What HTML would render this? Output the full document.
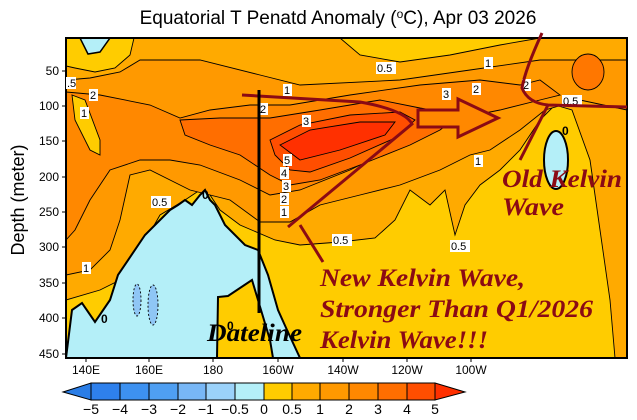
<!DOCTYPE html>
<html><head><meta charset="utf-8"><style>
body{margin:0;background:#fff}
svg{display:block}
.lb rect{fill:#fff}
.lb text{font:11px "Liberation Sans",sans-serif;fill:#000}
.ann{font-family:"Liberation Serif",serif;font-weight:bold;font-style:italic;fill:#8b0a14;font-size:25px}
</style></head><body>
<svg width="637" height="420" viewBox="0 0 637 420" xmlns="http://www.w3.org/2000/svg">
<defs><clipPath id="c"><rect x="66" y="38" width="561" height="320"/></clipPath></defs>
<text x="338" y="24" text-anchor="middle" font-family="Liberation Sans,sans-serif" font-size="19">Equatorial T Penatd Anomaly (<tspan font-size="12" dy="-6">o</tspan><tspan dy="6">C), Apr 03 2026</tspan></text>
<text transform="translate(24,200) rotate(-90)" text-anchor="middle" font-family="Liberation Sans,sans-serif" font-size="18">Depth (meter)</text>
<g clip-path="url(#c)" stroke="#000" stroke-width="0.9">
<rect x="66" y="38" width="561" height="320" fill="#ffcc00" stroke="none"/>
<polygon fill="#ffaa00" points="66,38 340,38 360,55 400,62 450,55 500,45 540,38 627,38 627,358 615,358 610,300 600,230 590,160 572,110 555,105 540,120 520,150 500,170 480,185 465,205 455,235 445,190 430,205 410,190 395,220 375,238 340,242 300,245 275,240 240,225 220,210 210,195 200,190 185,200 160,215 140,250 120,280 100,290 66,300"/>
<polygon fill="#ffcc00" points="66,38 134,38 130,55 115,68 95,72 75,68 66,66"/>
<polygon fill="#ff9900" points="66,80 90,78 120,72 140,60 200,60 260,75 300,85 400,80 470,70 540,60 600,60 627,60 627,110 580,100 545,110 520,130 490,150 470,155 440,170 400,185 360,195 320,205 290,222 260,222 230,200 190,190 150,170 130,175 120,220 110,250 90,270 66,275"/>
<polygon fill="#ff8800" points="66,92 100,95 150,105 180,118 210,110 250,105 290,105 350,95 420,85 480,80 520,85 540,80 560,95 540,100 500,110 450,120 420,130 390,150 350,170 300,190 270,195 240,180 200,165 170,160 140,160 110,170 90,200 75,230 66,240"/>
<ellipse cx="588" cy="72" rx="16" ry="18" fill="#ff7700"/>
<polygon fill="#ffcc00" points="72,95 85,100 100,140 100,155 90,150 75,120"/>
<polygon fill="#ff6e00" points="180,120 220,118 270,118 320,110 380,100 420,108 460,115 440,130 410,145 360,165 320,180 290,185 270,175 240,155 210,145 185,135"/>
<polygon fill="#ff4e00" points="270,140 300,125 350,115 400,112 415,120 395,138 350,158 310,172 290,170 275,155"/>
<polygon fill="#ff3000" points="280,145 310,130 360,122 395,122 385,135 340,150 300,160"/>
<polygon fill="#b4eff8" stroke-width="2" points="66,358 72,310 82,303 95,322 110,300 118,275 145,235 170,210 178,205 185,200 192,205 200,195 205,190 210,200 215,205 225,225 245,245 258,250 268,275 278,310 287,330 300,358"/>
<polygon fill="#ffcc00" stroke-width="2" points="217,358 218,297 228,296 252,280 258,300 270,340 273,358"/>
<polygon fill="#b4eff8" stroke-width="1.5" points="80,38 110,38 100,52 88,54"/>
<ellipse cx="556" cy="160" rx="12" ry="29" fill="#b4eff8" stroke-width="2"/>
<ellipse cx="137" cy="300" rx="4" ry="16" fill="#8fc6f5" stroke-dasharray="2,2"/>
<ellipse cx="153" cy="305" rx="5" ry="20" fill="#8fc6f5" stroke-dasharray="2,2"/>
</g>
<rect x="66" y="38" width="561" height="320" fill="none" stroke="#000" stroke-width="2"/>
<g stroke="#000" stroke-width="1">
<path d="M62 71h4M62 106h4M62 141h4M62 177h4M62 212h4M62 247h4M62 283h4M62 318h4M62 354h4M86 358v4M149 358v4M213 358v4M278 358v4M343 358v4M407 358v4M471 358v4"/>
</g>
<g font-family="Liberation Sans,sans-serif" font-size="12" text-anchor="end">
<text x="59" y="75">50</text><text x="59" y="110">100</text><text x="59" y="145">150</text><text x="59" y="181">200</text><text x="59" y="216">250</text><text x="59" y="251">300</text><text x="59" y="287">350</text><text x="59" y="322">400</text><text x="59" y="358">450</text>
</g>
<g font-family="Liberation Sans,sans-serif" font-size="12" text-anchor="middle">
<text x="86" y="374">140E</text><text x="149" y="374">160E</text><text x="213" y="374">180</text><text x="278" y="374">160W</text><text x="343" y="374">140W</text><text x="407" y="374">120W</text><text x="471" y="374">100W</text>
</g>
<g class="lb">
<rect x="66" y="77" width="10" height="12"/><text x="67" y="87">.5</text>
<rect x="89" y="89" width="9" height="12"/><text x="90" y="99">2</text>
<rect x="80" y="107" width="9" height="12"/><text x="81" y="117">1</text>
<rect x="259" y="103" width="9" height="12"/><text x="260" y="113">2</text>
<rect x="283" y="84" width="9" height="12"/><text x="284" y="94">1</text>
<rect x="302" y="115" width="9" height="12"/><text x="303" y="125">3</text>
<rect x="283" y="154" width="9" height="12"/><text x="284" y="164">5</text>
<rect x="280" y="167" width="9" height="12"/><text x="281" y="177">4</text>
<rect x="282" y="180" width="9" height="12"/><text x="283" y="190">3</text>
<rect x="280" y="193" width="9" height="12"/><text x="281" y="203">2</text>
<rect x="280" y="206" width="9" height="12"/><text x="281" y="216">1</text>
<rect x="151" y="196" width="20" height="12"/><text x="152" y="206">0.5</text>
<rect x="332" y="234" width="20" height="12"/><text x="333" y="244">0.5</text>
<rect x="82" y="262" width="9" height="12"/><text x="83" y="272">1</text>
<rect x="376" y="62" width="20" height="12"/><text x="377" y="72">0.5</text>
<rect x="484" y="57" width="9" height="12"/><text x="485" y="67">1</text>
<rect x="472" y="83" width="9" height="12"/><text x="473" y="93">2</text>
<rect x="442" y="88" width="9" height="12"/><text x="443" y="98">3</text>
<rect x="522" y="79" width="9" height="12"/><text x="523" y="89">2</text>
<rect x="562" y="95" width="20" height="12"/><text x="563" y="105">0.5</text>
<rect x="474" y="155" width="9" height="12"/><text x="475" y="165">1</text>
<rect x="450" y="240" width="20" height="12"/><text x="451" y="250">0.5</text>
</g>
<g font-family="Liberation Sans,sans-serif" font-weight="bold" font-size="12"><text x="101" y="323">0</text><text x="202" y="199">0</text><text x="562" y="135">0</text><text x="227" y="330">0</text></g>
<g stroke="#8b0a14" stroke-width="3" fill="none">
<path d="M242 95 L360 102 Q405 110 412 124 L288 227"/>
<path d="M300 225 L323 262"/>
<polygon points="418,110 458,110 458,99 498,118 458,137 458,127 418,127" fill="#ff8800"/>
<path d="M542 33 Q525 70 522 88 Q528 103 548 105 L627 107"/>
<path d="M548 105 L520 160"/>
</g>
<line x1="259" y1="90" x2="259" y2="313" stroke="#000" stroke-width="3"/>
<text x="207" y="341" font-family="Liberation Serif,serif" font-weight="bold" font-style="italic" font-size="25" fill="#000" textLength="95" lengthAdjust="spacingAndGlyphs">Dateline</text>
<text class="ann" x="320" y="286" textLength="205" lengthAdjust="spacingAndGlyphs">New Kelvin Wave,</text>
<text class="ann" x="320" y="317" textLength="273" lengthAdjust="spacingAndGlyphs">Stronger Than Q1/2026</text>
<text class="ann" x="320" y="348" textLength="168" lengthAdjust="spacingAndGlyphs">Kelvin Wave!!!</text>
<text class="ann" x="502" y="187" textLength="120" lengthAdjust="spacingAndGlyphs">Old Kelvin</text>
<text class="ann" x="502" y="215" textLength="62" lengthAdjust="spacingAndGlyphs">Wave</text>
<g stroke="#000" stroke-width="1">
<polygon points="63,392 91,383 91,400" fill="#2a7de6"/>
<rect x="91" y="383" width="29" height="17" fill="#2e80ec"/>
<rect x="120" y="383" width="29" height="17" fill="#3d91f0"/>
<rect x="149" y="383" width="29" height="17" fill="#4f9ff2"/>
<rect x="178" y="383" width="28" height="17" fill="#78b7f6"/>
<rect x="206" y="383" width="29" height="17" fill="#9bd2fa"/>
<rect x="235" y="383" width="29" height="17" fill="#b4eff8"/>
<rect x="264" y="383" width="28" height="17" fill="#ffcc00"/>
<rect x="292" y="383" width="28" height="17" fill="#ffaa00"/>
<rect x="320" y="383" width="29" height="17" fill="#ff9900"/>
<rect x="349" y="383" width="29" height="17" fill="#ff8800"/>
<rect x="378" y="383" width="29" height="17" fill="#ff6e00"/>
<rect x="407" y="383" width="28" height="17" fill="#ff4e00"/>
<polygon points="435,383 465,392 435,400" fill="#ff3000"/>
</g>
<g font-family="Liberation Sans,sans-serif" font-size="14" text-anchor="middle">
<text x="91" y="414">−5</text><text x="120" y="414">−4</text><text x="149" y="414">−3</text><text x="178" y="414">−2</text><text x="206" y="414">−1</text><text x="235" y="414">−0.5</text><text x="264" y="414">0</text><text x="292" y="414">0.5</text><text x="320" y="414">1</text><text x="349" y="414">2</text><text x="378" y="414">3</text><text x="407" y="414">4</text><text x="435" y="414">5</text>
</g>
</svg>
</body></html>
